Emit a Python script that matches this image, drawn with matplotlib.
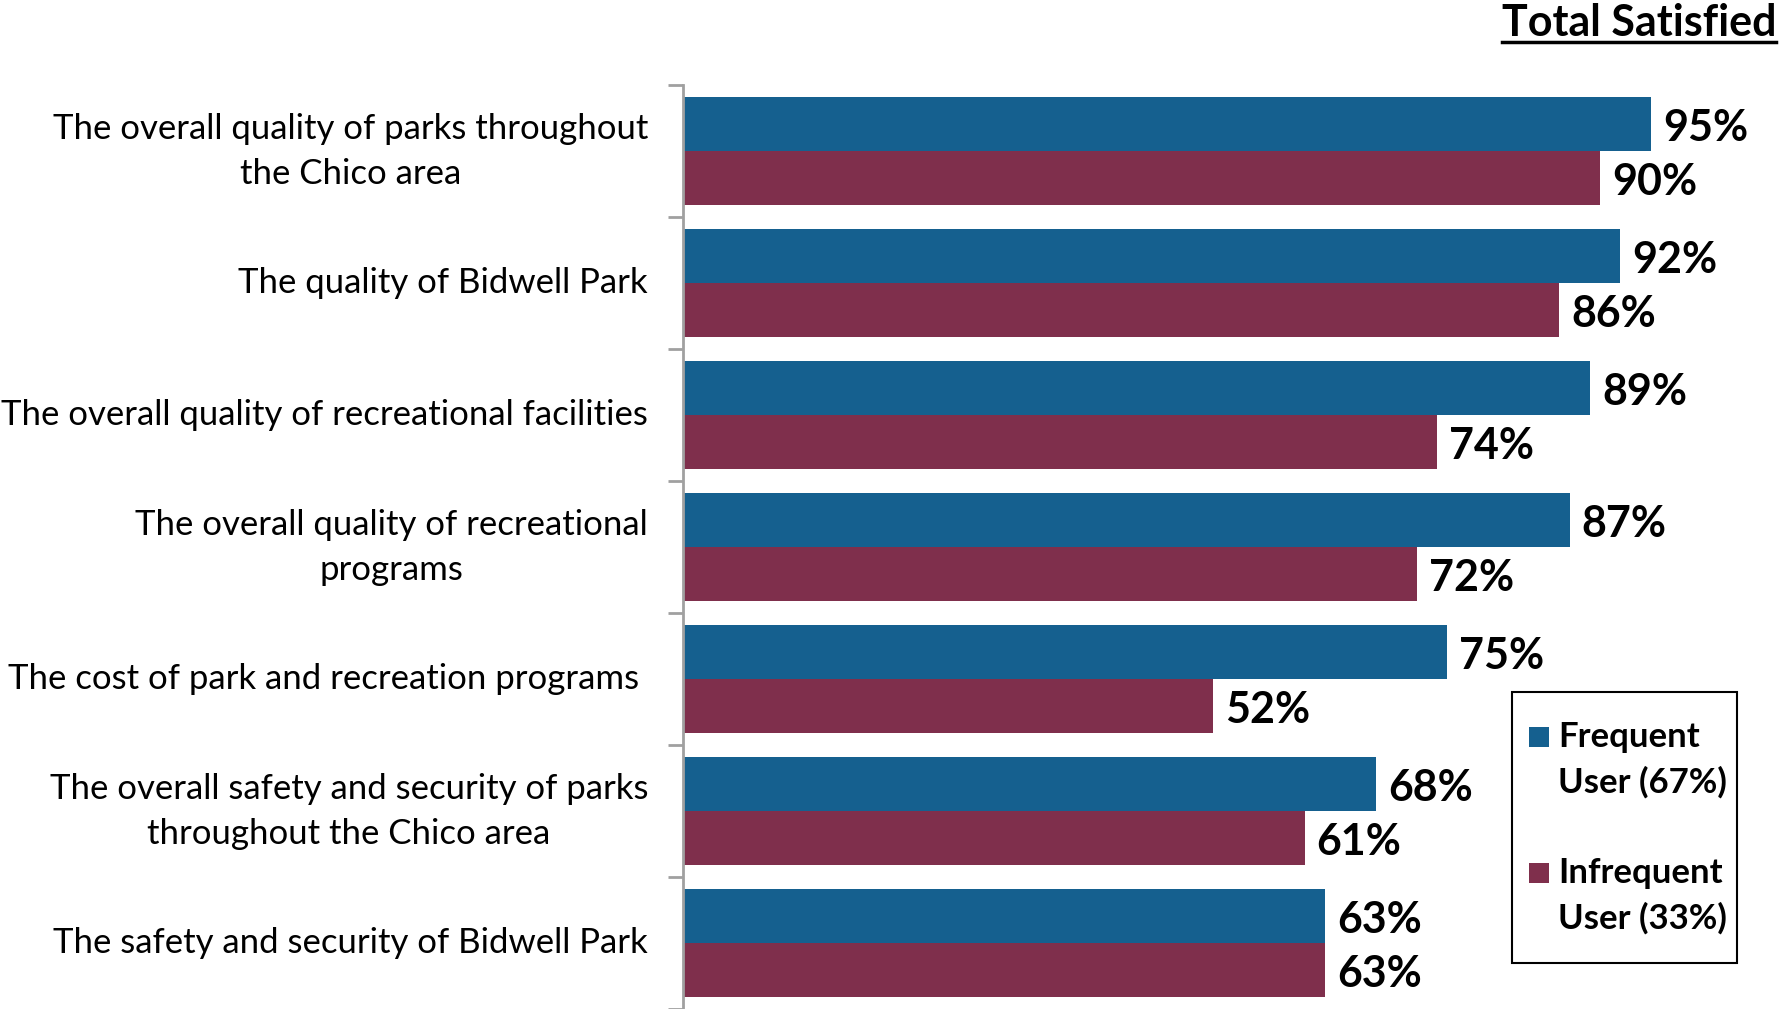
import matplotlib
matplotlib.use("Agg")
import matplotlib.pyplot as plt
from matplotlib.patches import Rectangle
import numpy as np

categories = [
    "The overall quality of parks throughout\nthe Chico area",
    "The quality of Bidwell Park",
    "The overall quality of recreational facilities",
    "The overall quality of recreational\nprograms",
    "The cost of park and recreation programs ",
    "The overall safety and security of parks\nthroughout the Chico area",
    "The safety and security of Bidwell Park",
]
frequent = [95, 92, 89, 87, 75, 68, 63]
infrequent = [90, 86, 74, 72, 52, 61, 63]
series_names = ["Frequent\nUser (67%)", "Infrequent\nUser (33%)"]
title = "Total Satisfied"

blue = "#15608F"
red = "#7F2F4C"
FONT = "Lato"

W, H = 1779, 1009
fig = plt.figure(figsize=(W / 100, H / 100), dpi=100)
ax = fig.add_axes([683 / W, 0.0, (1702 - 683) / W, 1 - 85 / H])

n = len(categories)
y = np.arange(n)
bh = 0.41
b1 = ax.barh(y - bh / 2, frequent, height=bh, color=blue, label=series_names[0])
b2 = ax.barh(y + bh / 2, infrequent, height=bh, color=red, label=series_names[1])

ax.set_xlim(0, 100)
ax.set_ylim(n - 0.5, -0.5)

for s in ["top", "right", "bottom"]:
    ax.spines[s].set_visible(False)
ax.spines["left"].set_color("#A0A0A0")
ax.spines["left"].set_linewidth(2)
ax.set_xticks([])
ax.set_yticks(np.arange(n + 1) - 0.5)
ax.set_yticklabels([])
ax.tick_params(axis="y", length=11, width=2, color="#A0A0A0", direction="out")

for i, c in enumerate(categories):
    ax.annotate(c, xy=(0, i), xycoords=("axes fraction", "data"),
                xytext=(-35, 0), textcoords="offset pixels",
                ha="right", va="center", multialignment="center",
                fontsize=25, family=FONT, color="black", linespacing=1.5)

for bars, vals in ((b1, frequent), (b2, infrequent)):
    for rect, v in zip(bars, vals):
        ax.annotate(f"{v}%", xy=(v, rect.get_y() + rect.get_height() / 2),
                    xytext=(12, -4), textcoords="offset pixels",
                    ha="left", va="center", fontsize=31, fontweight="bold",
                    family=FONT, color="black")

t = fig.text(1776 / W, 1 - 23 / H, title, ha="right", va="center",
             fontsize=31, fontweight="bold", family=FONT)
fig.canvas.draw()
bb = t.get_window_extent()
uy = 1 - 42 / H
fig.add_artist(plt.Line2D([bb.x0 / W, bb.x1 / W], [uy, uy],
                          color="black", linewidth=2.5, transform=fig.transFigure))

# legend (drawn as a framed box with square markers)
def fx(px):
    return px / W

def fy(py):
    return 1 - py / H

fig.add_artist(Rectangle((fx(1512), fy(963)), fx(1737) - fx(1512), fy(692) - fy(963),
                         transform=fig.transFigure, facecolor="white",
                         edgecolor="black", linewidth=1.5))
for name, col, yc in zip(series_names, [blue, red], [737, 873]):
    fig.add_artist(Rectangle((fx(1529), fy(yc + 10)), fx(1549) - fx(1529), fy(yc - 10) - fy(yc + 10),
                             transform=fig.transFigure, facecolor=col, edgecolor="none"))
    for k, line in enumerate(name.split("\n")):
        fig.text(fx(1558), fy(yc + 45 * k), line, ha="left", va="center",
                 fontsize=25, fontweight="bold", family=FONT)

fig.savefig("out.png", dpi=100, facecolor="white")
